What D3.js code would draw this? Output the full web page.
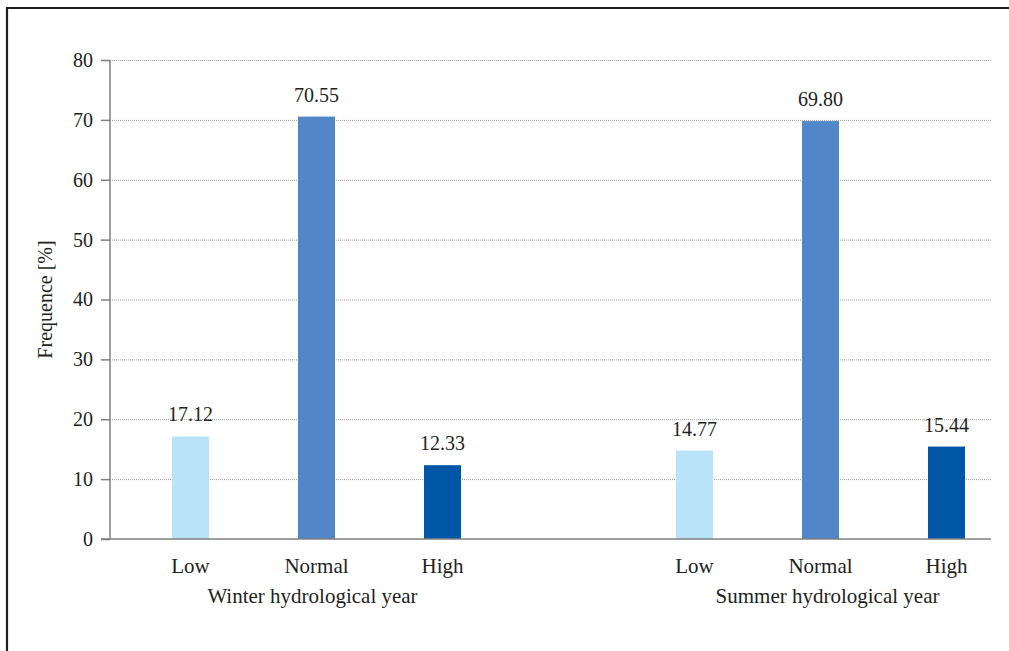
<!DOCTYPE html>
<html><head><meta charset="utf-8">
<script src="https://cdn.jsdelivr.net/npm/d3@7"></script>
<style>body{margin:0;background:#fff}svg{display:block}</style>
</head><body>
<svg id="c" width="1009" height="651"></svg>
<script>
const groups = ["Winter hydrological year", "Summer hydrological year"];
const categories = ["Low", "Normal", "High"];
const winterValues = [17.12, 70.55, 12.33];
const summerValues = [14.77, 69.80, 15.44];
const yTicks = [0, 10, 20, 30, 40, 50, 60, 70, 80];
const colors = ["#b9e4f8", "#5187c8", "#0057a8"];

const svg = d3.select("#c");
const font = "'Liberation Serif', 'DejaVu Serif', serif";
const txt = "#231f20";

// frame
svg.append("path").attr("d", "M7,651 V8 H1009").attr("fill", "none").attr("stroke", txt).attr("stroke-width", 2.2);

const slots = ["W-Low", "W-Normal", "W-High", "gap", "S-Low", "S-Normal", "S-High"];
const x = d3.scalePoint().domain(slots).range([190.5, 946.5]);
const y = d3.scaleLinear().domain([0, 80]).range([539, 60]);
const left = 110, right = 991;

const data = [];
categories.forEach((c, i) => data.push({slot: "W-" + c, cat: c, v: winterValues[i], color: colors[i]}));
categories.forEach((c, i) => data.push({slot: "S-" + c, cat: c, v: summerValues[i], color: colors[i]}));

// gridlines
svg.append("g").selectAll("line").data(yTicks.filter(d => d > 0)).join("line")
  .attr("x1", left).attr("x2", right).attr("y1", d => y(d) + 0.5).attr("y2", d => y(d) + 0.5)
  .attr("stroke", "#9a9a9a").attr("stroke-width", 1).attr("stroke-dasharray", "1,1");

// bars
const bw = 37;
svg.append("g").selectAll("rect").data(data).join("rect")
  .attr("x", d => x(d.slot) - bw / 2).attr("width", bw)
  .attr("y", d => y(d.v)).attr("height", d => y(0) - y(d.v))
  .attr("fill", d => d.color);

// value labels
svg.append("g").selectAll("text").data(data).join("text")
  .attr("x", d => x(d.slot)).attr("y", d => y(d.v) - 15)
  .attr("text-anchor", "middle").attr("font-family", font).attr("font-size", 20).attr("fill", txt)
  .text(d => d.v.toFixed(2));

// y axis
const yAxis = svg.append("g").attr("transform", `translate(${left},0)`)
  .call(d3.axisLeft(y).tickValues(yTicks).tickSize(9).tickPadding(8));
yAxis.select(".domain").attr("stroke", "#7f7f7f").attr("stroke-width", 1.5).attr("d", `M0,${y(80)}V${y(0)}`);
yAxis.selectAll(".tick line").attr("stroke", "#7f7f7f").attr("stroke-width", 1.5);
yAxis.selectAll(".tick text").attr("font-family", font).attr("font-size", 20).attr("fill", txt);

// x axis line
svg.append("line").attr("x1", left - 9).attr("x2", right).attr("y1", y(0)).attr("y2", y(0))
  .attr("stroke", "#7f7f7f").attr("stroke-width", 1.5);

// category labels
svg.append("g").selectAll("text").data(data).join("text")
  .attr("x", d => x(d.slot)).attr("y", 573)
  .attr("text-anchor", "middle").attr("font-family", font).attr("font-size", 21).attr("fill", txt)
  .text(d => d.cat);

// group labels
const groupCenters = [(x("W-Low") + x("W-High")) / 2 - 4, (x("S-Low") + x("S-High")) / 2 + 7];
svg.append("g").selectAll("text").data(groups).join("text")
  .attr("x", (d, i) => groupCenters[i]).attr("y", 603)
  .attr("text-anchor", "middle").attr("font-family", font).attr("font-size", 21).attr("fill", txt)
  .text(d => d);

// y label
svg.append("text").attr("transform", `translate(52,${(y(0) + y(80)) / 2}) rotate(-90)`)
  .attr("text-anchor", "middle").attr("font-family", font).attr("font-size", 20).attr("fill", txt)
  .text("Frequence [%]");
</script>
</body></html>
